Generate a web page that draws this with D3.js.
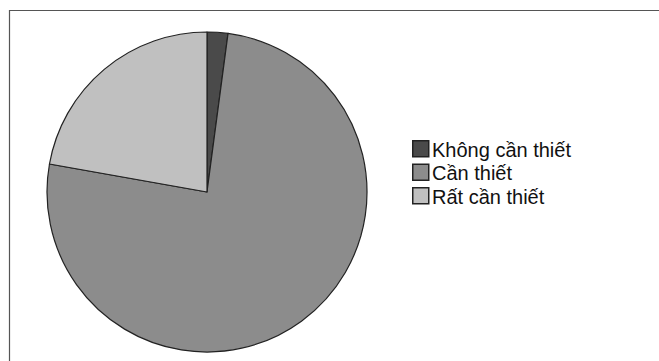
<!DOCTYPE html>
<html><head><meta charset="utf-8">
<script src="https://cdn.jsdelivr.net/npm/d3@7"></script>
<style>body{margin:0;background:#fff}</style>
</head><body>
<svg id="c" width="659" height="361"></svg>
<script>
const categories = ["Không cần thiết", "Cần thiết", "Rất cần thiết"];
const values = [2.1, 75.7, 22.2];
const colors = ["#4a4a4a", "#8c8c8c", "#c0c0c0"];

const svg = d3.select("#c");
svg.append("path").attr("d","M9.5,361 L9.5,10.5 L659,10.5").attr("fill","none").attr("stroke","#555").attr("stroke-width",1.2);

const cx = 207, cy = 192, r = 160;
const pie = d3.pie().sort(null).value(d => d.v);
const arc = d3.arc().innerRadius(0).outerRadius(r);
const data = categories.map((c,i)=>({c, v: values[i], col: colors[i]}));
const g = svg.append("g").attr("transform",`translate(${cx},${cy})`);
g.selectAll("path").data(pie(data)).join("path")
  .attr("d", arc).attr("fill", d=>d.data.col)
  .attr("stroke","#222").attr("stroke-width",1.2).attr("stroke-linejoin","round");

const lg = svg.append("g").attr("transform","translate(412,140)");
const row = lg.selectAll("g").data(data).join("g").attr("transform",(d,i)=>`translate(0,${i*23.5})`);
row.append("rect").attr("x",0.75).attr("y",0.75).attr("width",16).attr("height",16)
  .attr("fill",d=>d.col).attr("stroke","#222").attr("stroke-width",1.5);
row.append("text").attr("x",20).attr("y",16.5).text(d=>d.c)
  .attr("font-family","Liberation Sans, Arial, sans-serif").attr("font-size",20).attr("fill","#111");
</script>
</body></html>
